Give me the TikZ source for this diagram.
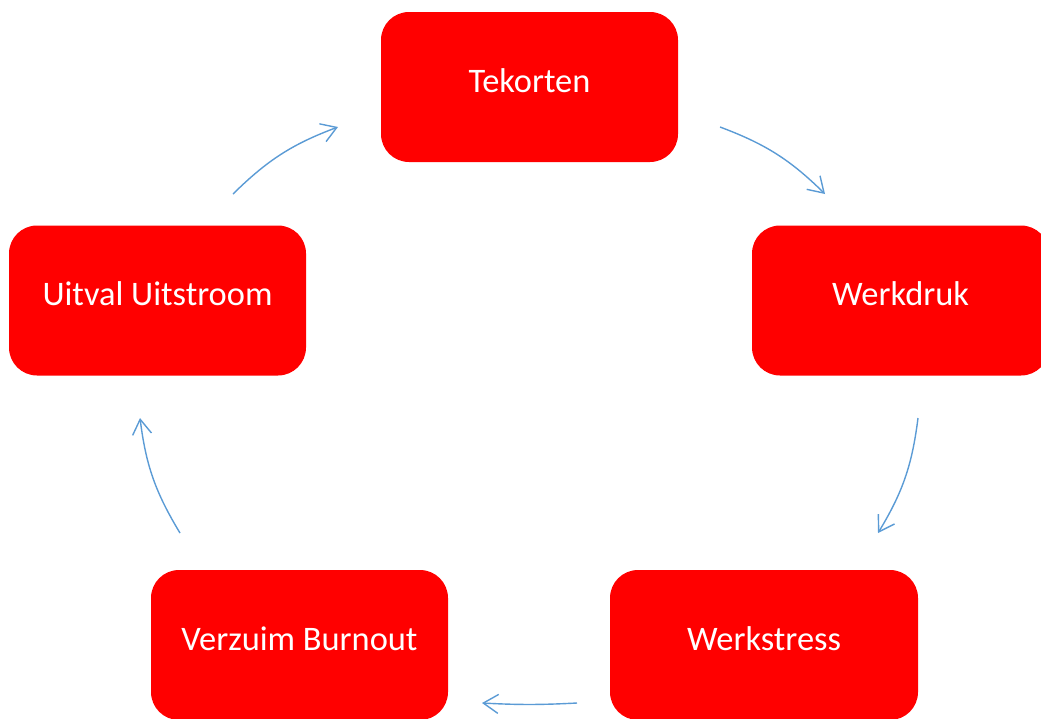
\documentclass[tikz,border=0pt]{standalone}
\usepackage{fontspec}
\setmainfont{Carlito}
\usetikzlibrary{arrows.meta}
\definecolor{boxred}{RGB}{255,0,0}
\definecolor{arrowblue}{RGB}{91,155,213}
\begin{document}
\begin{tikzpicture}[x=1pt,y=-1pt,
  cyclebox/.style={rectangle, rounded corners=28pt, fill=boxred, draw=none,
    minimum width=297pt, minimum height=150pt, inner sep=0pt,
    text height=24pt, text depth=14pt,
    text=white, font=\fontsize{34.4}{40}\selectfont},
  cyclearrow/.style={draw=arrowblue, line width=1.4pt,
    -{Straight Barb[length=15pt,width=19pt,line width=1.4pt]}}]
\useasboundingbox (0,0) rectangle (1041,718);
\node[cyclebox] (tek) at (529.5,87) {Tekorten};
\node[cyclebox] (wd) at (900.5,300.5) {Werkdruk};
\node[cyclebox, minimum width=308pt] (ws) at (764,645) {Werkstress};
\node[cyclebox] (vb) at (299.5,645) {Verzuim Burnout};
\node[cyclebox] (uu) at (157.5,300.5) {Uitval Uitstroom};
\coordinate (a1s) at (720,127); \coordinate (a1e) at (825,194);
\coordinate (a2s) at (918,418); \coordinate (a2e) at (878,533);
\coordinate (a3s) at (577,703); \coordinate (a3e) at (482,703);
\coordinate (a4s) at (180,533); \coordinate (a4e) at (140,418);
\coordinate (a5s) at (233,194); \coordinate (a5e) at (338,127);
\draw[cyclearrow] (a1s) to[bend left=12] (a1e);
\draw[cyclearrow] (a2s) to[bend left=12] (a2e);
\draw[cyclearrow] (a3s) to[bend left=3] (a3e);
\draw[cyclearrow] (a4s) to[bend left=12] (a4e);
\draw[cyclearrow] (a5s) to[bend left=12] (a5e);
\end{tikzpicture}
\end{document}
